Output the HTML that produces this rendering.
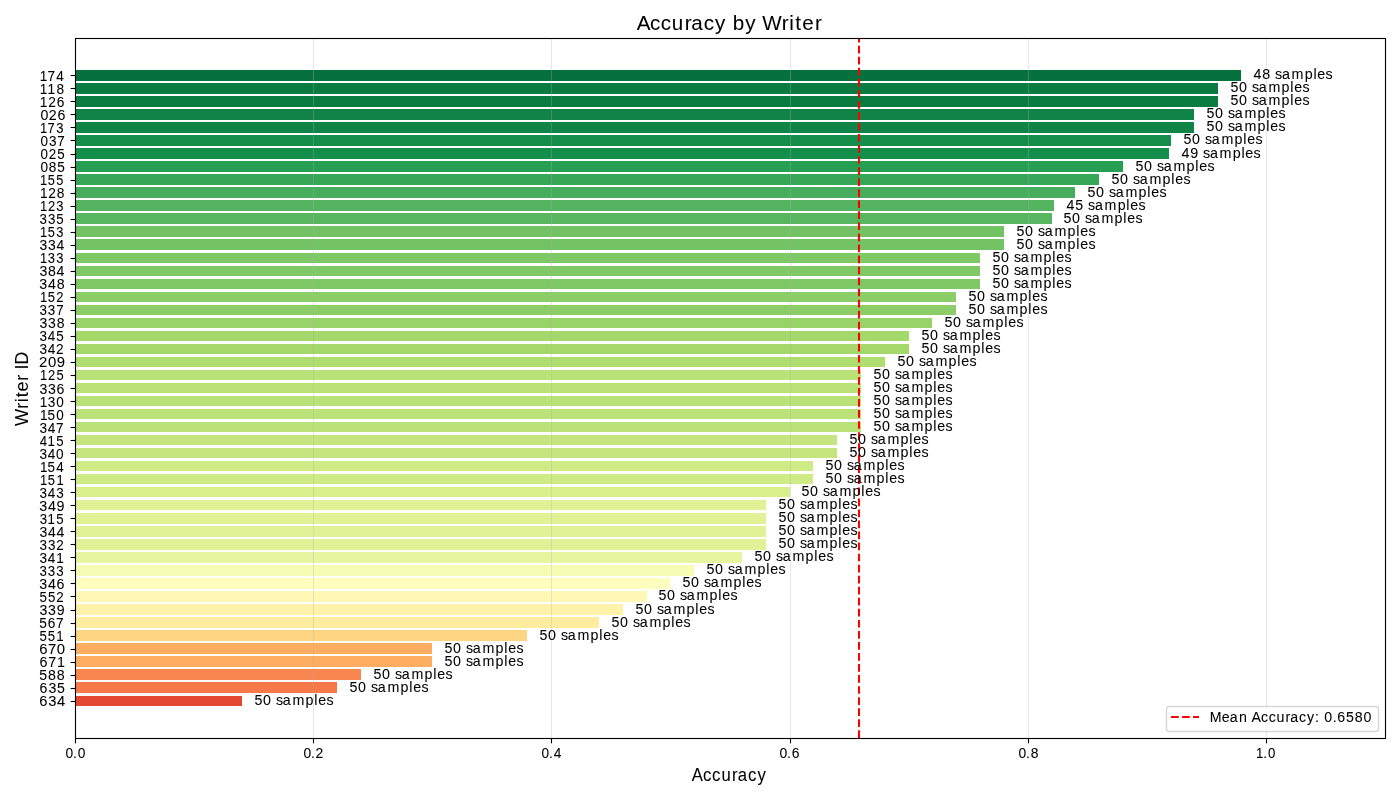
<!DOCTYPE html>
<html><head><meta charset="utf-8"><title>Accuracy by Writer</title>
<style>
html,body{margin:0;padding:0;background:#fff;}
svg{display:block;will-change:transform;}
text{font-family:"Liberation Sans",sans-serif;fill:#000;font-kerning:none;stroke:#000;stroke-width:0.06px;}
</style></head><body>
<svg width="1400" height="800" viewBox="0 0 1400 800">
<defs><clipPath id="ax"><rect x="75.0" y="38.0" width="1310.0" height="700.0"/></clipPath></defs>
<rect x="0" y="0" width="1400" height="800" fill="#ffffff"/>
<g clip-path="url(#ax)">
<rect x="75" y="696" width="167" height="10" fill="#e24731"/>
<rect x="75" y="682" width="262" height="11" fill="#f67a49"/>
<rect x="75" y="669" width="286" height="11" fill="#f8864f"/>
<rect x="75" y="656" width="357" height="11" fill="#fdad60"/>
<rect x="75" y="643" width="357" height="11" fill="#fdad60"/>
<rect x="75" y="630" width="452" height="11" fill="#fed683"/>
<rect x="75" y="617" width="524" height="11" fill="#feec9f"/>
<rect x="75" y="604" width="548" height="11" fill="#fff2aa"/>
<rect x="75" y="591" width="572" height="11" fill="#fff8b4"/>
<rect x="75" y="578" width="595" height="11" fill="#feffbe"/>
<rect x="75" y="565" width="619" height="11" fill="#f7fcb4"/>
<rect x="75" y="552" width="667" height="11" fill="#e8f59f"/>
<rect x="75" y="539" width="691" height="11" fill="#e0f295"/>
<rect x="75" y="526" width="691" height="11" fill="#e0f295"/>
<rect x="75" y="513" width="691" height="11" fill="#e0f295"/>
<rect x="75" y="500" width="691" height="10" fill="#e0f295"/>
<rect x="75" y="487" width="715" height="10" fill="#d9ef8b"/>
<rect x="75" y="474" width="738" height="10" fill="#cfeb85"/>
<rect x="75" y="461" width="738" height="10" fill="#cfeb85"/>
<rect x="75" y="448" width="762" height="10" fill="#c5e67e"/>
<rect x="75" y="435" width="762" height="10" fill="#c5e67e"/>
<rect x="75" y="422" width="786" height="10" fill="#bbe278"/>
<rect x="75" y="409" width="786" height="10" fill="#bbe278"/>
<rect x="75" y="396" width="786" height="10" fill="#bbe278"/>
<rect x="75" y="383" width="786" height="10" fill="#bbe278"/>
<rect x="75" y="370" width="786" height="10" fill="#bbe278"/>
<rect x="75" y="357" width="810" height="10" fill="#afdd70"/>
<rect x="75" y="344" width="834" height="10" fill="#a5d86a"/>
<rect x="75" y="331" width="834" height="10" fill="#a5d86a"/>
<rect x="75" y="318" width="857" height="10" fill="#98d368"/>
<rect x="75" y="305" width="881" height="10" fill="#8ccd67"/>
<rect x="75" y="292" width="881" height="10" fill="#8ccd67"/>
<rect x="75" y="279" width="905" height="10" fill="#7fc866"/>
<rect x="75" y="266" width="905" height="10" fill="#7fc866"/>
<rect x="75" y="253" width="905" height="10" fill="#7fc866"/>
<rect x="75" y="239" width="929" height="11" fill="#73c264"/>
<rect x="75" y="226" width="929" height="11" fill="#73c264"/>
<rect x="75" y="213" width="977" height="11" fill="#57b65f"/>
<rect x="75" y="200" width="979" height="11" fill="#54b45f"/>
<rect x="75" y="187" width="1000" height="11" fill="#45ad5b"/>
<rect x="75" y="174" width="1024" height="11" fill="#36a657"/>
<rect x="75" y="161" width="1048" height="11" fill="#279f53"/>
<rect x="75" y="148" width="1094" height="11" fill="#148e4b"/>
<rect x="75" y="135" width="1096" height="11" fill="#148e4b"/>
<rect x="75" y="122" width="1119" height="11" fill="#0f8446"/>
<rect x="75" y="109" width="1119" height="11" fill="#0f8446"/>
<rect x="75" y="96" width="1143" height="11" fill="#0a7b41"/>
<rect x="75" y="83" width="1143" height="11" fill="#0a7b41"/>
<rect x="75" y="70" width="1166" height="11" fill="#05713c"/>
<line x1="75.5" y1="38.0" x2="75.5" y2="739.0" stroke="#b0b0b0" stroke-opacity="0.3" stroke-width="1.111"/>
<line x1="313.5" y1="38.0" x2="313.5" y2="739.0" stroke="#b0b0b0" stroke-opacity="0.3" stroke-width="1.111"/>
<line x1="551.5" y1="38.0" x2="551.5" y2="739.0" stroke="#b0b0b0" stroke-opacity="0.3" stroke-width="1.111"/>
<line x1="790.5" y1="38.0" x2="790.5" y2="739.0" stroke="#b0b0b0" stroke-opacity="0.3" stroke-width="1.111"/>
<line x1="1028.5" y1="38.0" x2="1028.5" y2="739.0" stroke="#b0b0b0" stroke-opacity="0.3" stroke-width="1.111"/>
<line x1="1266.5" y1="38.0" x2="1266.5" y2="739.0" stroke="#b0b0b0" stroke-opacity="0.3" stroke-width="1.111"/>
<line x1="859.0" y1="738.0" x2="859.0" y2="38.0" stroke="#ff0000" stroke-width="2.0833" stroke-dasharray="7.7083 3.3333"/>
</g>
<rect x="75.5" y="38.5" width="1310.0" height="700.0" fill="none" stroke="#000" stroke-width="1.111"/>
<line x1="70.639" y1="701.5" x2="75.5" y2="701.5" stroke="#000" stroke-width="1.111"/>
<line x1="70.639" y1="688.5" x2="75.5" y2="688.5" stroke="#000" stroke-width="1.111"/>
<line x1="70.639" y1="675.5" x2="75.5" y2="675.5" stroke="#000" stroke-width="1.111"/>
<line x1="70.639" y1="662.5" x2="75.5" y2="662.5" stroke="#000" stroke-width="1.111"/>
<line x1="70.639" y1="649.5" x2="75.5" y2="649.5" stroke="#000" stroke-width="1.111"/>
<line x1="70.639" y1="636.5" x2="75.5" y2="636.5" stroke="#000" stroke-width="1.111"/>
<line x1="70.639" y1="623.5" x2="75.5" y2="623.5" stroke="#000" stroke-width="1.111"/>
<line x1="70.639" y1="610.5" x2="75.5" y2="610.5" stroke="#000" stroke-width="1.111"/>
<line x1="70.639" y1="596.5" x2="75.5" y2="596.5" stroke="#000" stroke-width="1.111"/>
<line x1="70.639" y1="583.5" x2="75.5" y2="583.5" stroke="#000" stroke-width="1.111"/>
<line x1="70.639" y1="570.5" x2="75.5" y2="570.5" stroke="#000" stroke-width="1.111"/>
<line x1="70.639" y1="557.5" x2="75.5" y2="557.5" stroke="#000" stroke-width="1.111"/>
<line x1="70.639" y1="544.5" x2="75.5" y2="544.5" stroke="#000" stroke-width="1.111"/>
<line x1="70.639" y1="531.5" x2="75.5" y2="531.5" stroke="#000" stroke-width="1.111"/>
<line x1="70.639" y1="518.5" x2="75.5" y2="518.5" stroke="#000" stroke-width="1.111"/>
<line x1="70.639" y1="505.5" x2="75.5" y2="505.5" stroke="#000" stroke-width="1.111"/>
<line x1="70.639" y1="492.5" x2="75.5" y2="492.5" stroke="#000" stroke-width="1.111"/>
<line x1="70.639" y1="479.5" x2="75.5" y2="479.5" stroke="#000" stroke-width="1.111"/>
<line x1="70.639" y1="466.5" x2="75.5" y2="466.5" stroke="#000" stroke-width="1.111"/>
<line x1="70.639" y1="453.5" x2="75.5" y2="453.5" stroke="#000" stroke-width="1.111"/>
<line x1="70.639" y1="440.5" x2="75.5" y2="440.5" stroke="#000" stroke-width="1.111"/>
<line x1="70.639" y1="427.5" x2="75.5" y2="427.5" stroke="#000" stroke-width="1.111"/>
<line x1="70.639" y1="414.5" x2="75.5" y2="414.5" stroke="#000" stroke-width="1.111"/>
<line x1="70.639" y1="401.5" x2="75.5" y2="401.5" stroke="#000" stroke-width="1.111"/>
<line x1="70.639" y1="388.5" x2="75.5" y2="388.5" stroke="#000" stroke-width="1.111"/>
<line x1="70.639" y1="375.5" x2="75.5" y2="375.5" stroke="#000" stroke-width="1.111"/>
<line x1="70.639" y1="362.5" x2="75.5" y2="362.5" stroke="#000" stroke-width="1.111"/>
<line x1="70.639" y1="349.5" x2="75.5" y2="349.5" stroke="#000" stroke-width="1.111"/>
<line x1="70.639" y1="336.5" x2="75.5" y2="336.5" stroke="#000" stroke-width="1.111"/>
<line x1="70.639" y1="323.5" x2="75.5" y2="323.5" stroke="#000" stroke-width="1.111"/>
<line x1="70.639" y1="310.5" x2="75.5" y2="310.5" stroke="#000" stroke-width="1.111"/>
<line x1="70.639" y1="297.5" x2="75.5" y2="297.5" stroke="#000" stroke-width="1.111"/>
<line x1="70.639" y1="284.5" x2="75.5" y2="284.5" stroke="#000" stroke-width="1.111"/>
<line x1="70.639" y1="271.5" x2="75.5" y2="271.5" stroke="#000" stroke-width="1.111"/>
<line x1="70.639" y1="258.5" x2="75.5" y2="258.5" stroke="#000" stroke-width="1.111"/>
<line x1="70.639" y1="245.5" x2="75.5" y2="245.5" stroke="#000" stroke-width="1.111"/>
<line x1="70.639" y1="232.5" x2="75.5" y2="232.5" stroke="#000" stroke-width="1.111"/>
<line x1="70.639" y1="219.5" x2="75.5" y2="219.5" stroke="#000" stroke-width="1.111"/>
<line x1="70.639" y1="206.5" x2="75.5" y2="206.5" stroke="#000" stroke-width="1.111"/>
<line x1="70.639" y1="193.5" x2="75.5" y2="193.5" stroke="#000" stroke-width="1.111"/>
<line x1="70.639" y1="180.5" x2="75.5" y2="180.5" stroke="#000" stroke-width="1.111"/>
<line x1="70.639" y1="167.5" x2="75.5" y2="167.5" stroke="#000" stroke-width="1.111"/>
<line x1="70.639" y1="154.5" x2="75.5" y2="154.5" stroke="#000" stroke-width="1.111"/>
<line x1="70.639" y1="140.5" x2="75.5" y2="140.5" stroke="#000" stroke-width="1.111"/>
<line x1="70.639" y1="127.5" x2="75.5" y2="127.5" stroke="#000" stroke-width="1.111"/>
<line x1="70.639" y1="114.5" x2="75.5" y2="114.5" stroke="#000" stroke-width="1.111"/>
<line x1="70.639" y1="101.5" x2="75.5" y2="101.5" stroke="#000" stroke-width="1.111"/>
<line x1="70.639" y1="88.5" x2="75.5" y2="88.5" stroke="#000" stroke-width="1.111"/>
<line x1="70.639" y1="75.5" x2="75.5" y2="75.5" stroke="#000" stroke-width="1.111"/>
<line x1="75.5" y1="738.5" x2="75.5" y2="743.361" stroke="#000" stroke-width="1.111"/>
<line x1="313.5" y1="738.5" x2="313.5" y2="743.361" stroke="#000" stroke-width="1.111"/>
<line x1="551.5" y1="738.5" x2="551.5" y2="743.361" stroke="#000" stroke-width="1.111"/>
<line x1="790.5" y1="738.5" x2="790.5" y2="743.361" stroke="#000" stroke-width="1.111"/>
<line x1="1028.5" y1="738.5" x2="1028.5" y2="743.361" stroke="#000" stroke-width="1.111"/>
<line x1="1266.5" y1="738.5" x2="1266.5" y2="743.361" stroke="#000" stroke-width="1.111"/>
<text transform="translate(40.00 705.86) scale(1.0447 1)" x="-0.67 7.99 16.19" font-size="14.124">634</text>
<text transform="translate(40.00 692.86) scale(1.0014 1)" x="-0.52 8.51 16.94" font-size="14.124">635</text>
<text transform="translate(40.00 679.86) scale(1.0040 1)" x="-0.72 7.96 16.59" font-size="14.124">588</text>
<text transform="translate(40.00 666.86) scale(1.0155 1)" x="-0.57 8.11 16.74" font-size="14.124">671</text>
<text transform="translate(40.00 653.86) scale(1.0574 1)" x="-0.70 7.63 15.90" font-size="14.124">670</text>
<text transform="translate(40.00 640.86) scale(0.9214 1)" x="-0.59 8.54 17.67" font-size="14.332">551</text>
<text transform="translate(40.00 627.86) scale(0.9686 1)" x="-0.71 8.00 16.62" font-size="14.124">567</text>
<text transform="translate(40.00 614.86) scale(1.0003 1)" x="-0.62 8.04 16.64" font-size="14.124">339</text>
<text transform="translate(40.00 601.86) scale(0.9421 1)" x="-0.59 8.38 17.22" font-size="14.124">552</text>
<text transform="translate(40.00 588.86) scale(1.0104 1)" x="-0.66 7.86 16.40" font-size="14.124">346</text>
<text transform="translate(40.00 575.86) scale(0.9407 1)" x="-0.54 8.34 17.22" font-size="14.124">333</text>
<text transform="translate(40.00 562.86) scale(0.9597 1)" x="-0.58 8.16 16.86" font-size="14.124">341</text>
<text transform="translate(40.00 549.86) scale(0.9527 1)" x="-0.54 8.32 16.99" font-size="14.124">332</text>
<text transform="translate(40.00 536.86) scale(0.9957 1)" x="-0.63 7.98 16.62" font-size="14.124">344</text>
<text transform="translate(40.00 523.86) scale(0.9374 1)" x="-0.15 8.08 17.30" font-size="14.124">315</text>
<text transform="translate(40.00 510.86) scale(1.0140 1)" x="-0.66 7.86 16.37" font-size="14.124">349</text>
<text transform="translate(40.00 497.86) scale(0.9542 1)" x="-0.59 8.15 16.92" font-size="14.124">343</text>
<text transform="translate(41.00 484.86) scale(0.9018 1)" x="-1.06 7.49 17.09" font-size="14.332">151</text>
<text transform="translate(41.00 471.86) scale(0.9391 1)" x="-1.19 7.04 16.26" font-size="14.332">154</text>
<text transform="translate(40.00 458.86) scale(0.9594 1)" x="-0.63 7.99 16.62" font-size="14.124">340</text>
<text transform="translate(40.00 445.86) scale(0.9233 1)" x="-0.16 8.21 17.57" font-size="14.332">415</text>
<text transform="translate(40.00 432.86) scale(0.9629 1)" x="-0.61 8.07 16.75" font-size="14.124">347</text>
<text transform="translate(41.00 419.86) scale(0.9579 1)" x="-1.18 6.88 15.87" font-size="14.124">150</text>
<text transform="translate(41.00 406.86) scale(0.9635 1)" x="-1.20 6.92 15.76" font-size="14.124">130</text>
<text transform="translate(40.00 393.86) scale(0.9969 1)" x="-0.62 8.04 16.68" font-size="14.124">336</text>
<text transform="translate(41.00 379.86) scale(0.9154 1)" x="-1.07 7.74 16.81" font-size="14.124">125</text>
<text transform="translate(40.00 366.86) scale(1.0561 1)" x="-0.91 7.52 15.86" font-size="14.124">209</text>
<text transform="translate(40.00 353.86) scale(0.9665 1)" x="-0.59 8.13 16.69" font-size="14.124">342</text>
<text transform="translate(40.00 340.86) scale(0.9529 1)" x="-0.57 8.21 16.96" font-size="14.124">345</text>
<text transform="translate(40.00 327.86) scale(0.9921 1)" x="-0.60 8.13 16.84" font-size="14.124">338</text>
<text transform="translate(40.00 314.86) scale(0.9493 1)" x="-0.56 8.27 17.04" font-size="14.124">337</text>
<text transform="translate(41.00 301.86) scale(0.9222 1)" x="-1.07 7.30 16.47" font-size="14.124">152</text>
<text transform="translate(40.00 288.86) scale(1.0058 1)" x="-0.64 7.95 16.55" font-size="14.124">348</text>
<text transform="translate(40.00 275.86) scale(0.9988 1)" x="-0.64 7.95 16.55" font-size="14.124">384</text>
<text transform="translate(41.00 262.86) scale(0.9159 1)" x="-1.05 7.48 16.74" font-size="14.124">133</text>
<text transform="translate(40.00 249.86) scale(0.9823 1)" x="-0.59 8.17 16.90" font-size="14.124">334</text>
<text transform="translate(41.00 236.86) scale(0.9104 1)" x="-1.03 7.44 16.86" font-size="14.124">153</text>
<text transform="translate(40.00 223.86) scale(0.9392 1)" x="-0.52 8.41 17.27" font-size="14.124">335</text>
<text transform="translate(41.00 210.86) scale(0.9170 1)" x="-1.09 7.67 16.76" font-size="14.124">123</text>
<text transform="translate(41.00 197.86) scale(0.9695 1)" x="-1.15 7.47 16.37" font-size="14.124">128</text>
<text transform="translate(41.00 184.86) scale(0.8957 1)" x="-1.04 7.57 17.12" font-size="14.332">155</text>
<text transform="translate(41.00 171.86) scale(0.9631 1)" x="-0.50 8.16 16.76" font-size="14.124">085</text>
<text transform="translate(41.00 158.86) scale(0.9479 1)" x="-0.45 8.17 17.09" font-size="14.124">025</text>
<text transform="translate(41.00 145.86) scale(0.9569 1)" x="-0.48 8.24 16.90" font-size="14.124">037</text>
<text transform="translate(41.00 132.86) scale(0.9215 1)" x="-1.07 7.17 16.61" font-size="14.124">173</text>
<text transform="translate(41.00 119.86) scale(1.0062 1)" x="-0.55 7.80 16.50" font-size="14.124">026</text>
<text transform="translate(41.00 106.86) scale(0.9745 1)" x="-1.17 7.37 16.20" font-size="14.124">126</text>
<text transform="translate(41.00 93.86) scale(0.9669 1)" x="-1.21 6.80 15.94" font-size="14.124">118</text>
<text transform="translate(41.00 81.00) scale(0.9370 1)" x="-1.24 6.87 16.25" font-size="14.535">174</text>
<text transform="translate(66.00 757.86) scale(0.9749 1)" x="-0.45 7.21 11.94" font-size="14.124">0.0</text>
<text transform="translate(304.00 757.86) scale(0.9821 1)" x="-0.47 7.14 11.66" font-size="14.124">0.2</text>
<text transform="translate(542.00 757.86) scale(0.9681 1)" x="-0.42 7.27 12.02" font-size="14.124">0.4</text>
<text transform="translate(780.00 757.86) scale(0.9878 1)" x="-0.49 7.09 11.79" font-size="14.124">0.6</text>
<text transform="translate(1019.00 757.86) scale(0.9810 1)" x="-0.47 7.15 11.95" font-size="14.124">0.8</text>
<text transform="translate(1257.00 757.86) scale(0.9341 1)" x="-1.11 6.67 11.67" font-size="14.124">1.0</text>
<text transform="translate(255.00 704.88) scale(0.9495 1)" x="-0.54 8.56 17.47 22.11 29.37 39.46 53.31 62.47 66.57 75.29" font-size="15.019">50 samples</text>
<text transform="translate(350.00 691.88) scale(0.9495 1)" x="-0.54 8.56 17.47 22.11 29.37 39.46 53.31 62.47 66.57 75.29" font-size="15.019">50 samples</text>
<text transform="translate(374.00 678.88) scale(0.9495 1)" x="-0.54 8.56 17.47 22.11 29.37 39.46 53.31 62.47 66.57 75.29" font-size="15.019">50 samples</text>
<text transform="translate(445.00 665.88) scale(0.9495 1)" x="-0.54 8.56 17.47 22.11 29.37 39.46 53.31 62.47 66.57 75.29" font-size="15.019">50 samples</text>
<text transform="translate(445.00 652.88) scale(0.9495 1)" x="-0.54 8.56 17.47 22.11 29.37 39.46 53.31 62.47 66.57 75.29" font-size="15.019">50 samples</text>
<text transform="translate(540.00 639.88) scale(0.9495 1)" x="-0.54 8.56 17.47 22.11 29.37 39.46 53.31 62.47 66.57 75.29" font-size="15.019">50 samples</text>
<text transform="translate(612.00 626.88) scale(0.9495 1)" x="-0.54 8.56 17.47 22.11 29.37 39.46 53.31 62.47 66.57 75.29" font-size="15.019">50 samples</text>
<text transform="translate(636.00 613.88) scale(0.9495 1)" x="-0.54 8.56 17.47 22.11 29.37 39.46 53.31 62.47 66.57 75.29" font-size="15.019">50 samples</text>
<text transform="translate(659.00 599.88) scale(0.9495 1)" x="-0.54 8.56 17.47 22.11 29.37 39.46 53.31 62.47 66.57 75.29" font-size="15.019">50 samples</text>
<text transform="translate(683.00 586.88) scale(0.9495 1)" x="-0.54 8.56 17.47 22.11 29.37 39.46 53.31 62.47 66.57 75.29" font-size="15.019">50 samples</text>
<text transform="translate(707.00 573.88) scale(0.9495 1)" x="-0.54 8.56 17.47 22.11 29.37 39.46 53.31 62.47 66.57 75.29" font-size="15.019">50 samples</text>
<text transform="translate(755.00 560.88) scale(0.9495 1)" x="-0.54 8.56 17.47 22.11 29.37 39.46 53.31 62.47 66.57 75.29" font-size="15.019">50 samples</text>
<text transform="translate(779.00 547.88) scale(0.9495 1)" x="-0.54 8.56 17.47 22.11 29.37 39.46 53.31 62.47 66.57 75.29" font-size="15.019">50 samples</text>
<text transform="translate(779.00 534.88) scale(0.9495 1)" x="-0.54 8.56 17.47 22.11 29.37 39.46 53.31 62.47 66.57 75.29" font-size="15.019">50 samples</text>
<text transform="translate(779.00 521.88) scale(0.9495 1)" x="-0.54 8.56 17.47 22.11 29.37 39.46 53.31 62.47 66.57 75.29" font-size="15.019">50 samples</text>
<text transform="translate(779.00 508.88) scale(0.9495 1)" x="-0.54 8.56 17.47 22.11 29.37 39.46 53.31 62.47 66.57 75.29" font-size="15.019">50 samples</text>
<text transform="translate(802.00 495.88) scale(0.9495 1)" x="-0.54 8.56 17.47 22.11 29.37 39.46 53.31 62.47 66.57 75.29" font-size="15.019">50 samples</text>
<text transform="translate(826.00 482.88) scale(0.9495 1)" x="-0.54 8.56 17.47 22.11 29.37 39.46 53.31 62.47 66.57 75.29" font-size="15.019">50 samples</text>
<text transform="translate(826.00 469.88) scale(0.9495 1)" x="-0.54 8.56 17.47 22.11 29.37 39.46 53.31 62.47 66.57 75.29" font-size="15.019">50 samples</text>
<text transform="translate(850.00 456.88) scale(0.9495 1)" x="-0.54 8.56 17.47 22.11 29.37 39.46 53.31 62.47 66.57 75.29" font-size="15.019">50 samples</text>
<text transform="translate(850.00 443.88) scale(0.9495 1)" x="-0.54 8.56 17.47 22.11 29.37 39.46 53.31 62.47 66.57 75.29" font-size="15.019">50 samples</text>
<text transform="translate(874.00 430.88) scale(0.9495 1)" x="-0.54 8.56 17.47 22.11 29.37 39.46 53.31 62.47 66.57 75.29" font-size="15.019">50 samples</text>
<text transform="translate(874.00 417.88) scale(0.9495 1)" x="-0.54 8.56 17.47 22.11 29.37 39.46 53.31 62.47 66.57 75.29" font-size="15.019">50 samples</text>
<text transform="translate(874.00 404.88) scale(0.9495 1)" x="-0.54 8.56 17.47 22.11 29.37 39.46 53.31 62.47 66.57 75.29" font-size="15.019">50 samples</text>
<text transform="translate(874.00 391.88) scale(0.9495 1)" x="-0.54 8.56 17.47 22.11 29.37 39.46 53.31 62.47 66.57 75.29" font-size="15.019">50 samples</text>
<text transform="translate(874.00 378.88) scale(0.9495 1)" x="-0.54 8.56 17.47 22.11 29.37 39.46 53.31 62.47 66.57 75.29" font-size="15.019">50 samples</text>
<text transform="translate(898.00 365.88) scale(0.9495 1)" x="-0.54 8.56 17.47 22.11 29.37 39.46 53.31 62.47 66.57 75.29" font-size="15.019">50 samples</text>
<text transform="translate(922.00 352.88) scale(0.9495 1)" x="-0.54 8.56 17.47 22.11 29.37 39.46 53.31 62.47 66.57 75.29" font-size="15.019">50 samples</text>
<text transform="translate(922.00 339.88) scale(0.9495 1)" x="-0.54 8.56 17.47 22.11 29.37 39.46 53.31 62.47 66.57 75.29" font-size="15.019">50 samples</text>
<text transform="translate(945.00 326.88) scale(0.9495 1)" x="-0.54 8.56 17.47 22.11 29.37 39.46 53.31 62.47 66.57 75.29" font-size="15.019">50 samples</text>
<text transform="translate(969.00 313.88) scale(0.9495 1)" x="-0.54 8.56 17.47 22.11 29.37 39.46 53.31 62.47 66.57 75.29" font-size="15.019">50 samples</text>
<text transform="translate(969.00 300.88) scale(0.9495 1)" x="-0.54 8.56 17.47 22.11 29.37 39.46 53.31 62.47 66.57 75.29" font-size="15.019">50 samples</text>
<text transform="translate(993.00 287.88) scale(0.9495 1)" x="-0.54 8.56 17.47 22.11 29.37 39.46 53.31 62.47 66.57 75.29" font-size="15.019">50 samples</text>
<text transform="translate(993.00 274.88) scale(0.9495 1)" x="-0.54 8.56 17.47 22.11 29.37 39.46 53.31 62.47 66.57 75.29" font-size="15.019">50 samples</text>
<text transform="translate(993.00 261.88) scale(0.9495 1)" x="-0.54 8.56 17.47 22.11 29.37 39.46 53.31 62.47 66.57 75.29" font-size="15.019">50 samples</text>
<text transform="translate(1017.00 248.88) scale(0.9495 1)" x="-0.54 8.56 17.47 22.11 29.37 39.46 53.31 62.47 66.57 75.29" font-size="15.019">50 samples</text>
<text transform="translate(1017.00 235.88) scale(0.9495 1)" x="-0.54 8.56 17.47 22.11 29.37 39.46 53.31 62.47 66.57 75.29" font-size="15.019">50 samples</text>
<text transform="translate(1064.00 222.88) scale(0.9495 1)" x="-0.54 8.56 17.47 22.11 29.37 39.46 53.31 62.47 66.57 75.29" font-size="15.019">50 samples</text>
<text transform="translate(1067.00 209.88) scale(0.9449 1)" x="-0.43 8.61 17.88 22.23 29.53 39.68 53.59 62.78 66.91 75.68" font-size="15.019">45 samples</text>
<text transform="translate(1088.00 196.88) scale(0.9495 1)" x="-0.54 8.56 17.47 22.11 29.37 39.46 53.31 62.47 66.57 75.29" font-size="15.019">50 samples</text>
<text transform="translate(1112.00 183.88) scale(0.9495 1)" x="-0.54 8.56 17.47 22.11 29.37 39.46 53.31 62.47 66.57 75.29" font-size="15.019">50 samples</text>
<text transform="translate(1136.00 170.88) scale(0.9495 1)" x="-0.54 8.56 17.47 22.11 29.37 39.46 53.31 62.47 66.57 75.29" font-size="15.019">50 samples</text>
<text transform="translate(1182.00 157.88) scale(0.9549 1)" x="-0.47 8.55 17.69 22.09 29.27 39.33 53.12 62.24 66.30 74.98" font-size="15.019">49 samples</text>
<text transform="translate(1184.00 143.88) scale(0.9495 1)" x="-0.54 8.56 17.47 22.11 29.37 39.46 53.31 62.47 66.57 75.29" font-size="15.019">50 samples</text>
<text transform="translate(1207.00 130.88) scale(0.9495 1)" x="-0.54 8.56 17.47 22.11 29.37 39.46 53.31 62.47 66.57 75.29" font-size="15.019">50 samples</text>
<text transform="translate(1207.00 117.88) scale(0.9495 1)" x="-0.54 8.56 17.47 22.11 29.37 39.46 53.31 62.47 66.57 75.29" font-size="15.019">50 samples</text>
<text transform="translate(1231.00 104.88) scale(0.9495 1)" x="-0.54 8.56 17.47 22.11 29.37 39.46 53.31 62.47 66.57 75.29" font-size="15.019">50 samples</text>
<text transform="translate(1231.00 91.88) scale(0.9495 1)" x="-0.54 8.56 17.47 22.11 29.37 39.46 53.31 62.47 66.57 75.29" font-size="15.019">50 samples</text>
<text transform="translate(1254.00 78.88) scale(0.9525 1)" x="-0.46 8.65 17.74 22.15 29.36 39.44 53.26 62.40 66.48 75.18" font-size="15.019">48 samples</text>
<text transform="translate(637.00 29.77) scale(1.0114 1)" x="-0.23 12.89 23.51 34.45 47.14 53.73 66.03 77.19 87.78 94.74 106.97 117.41 123.86 143.04 150.62 156.45 163.49 175.92" font-size="20.383">Accuracy by Writer</text>
<text transform="translate(692.00 781.06) scale(0.8806 1)" x="-0.16 12.62 22.79 33.37 45.56 51.85 63.60 74.36" font-size="18.984">Accuracy</text>
<text transform="translate(27.81 425.00) rotate(-90) scale(0.9428 1)" x="-0.97 17.36 24.10 29.35 35.55 46.89 53.33 58.78 63.83" font-size="19.064">Writer ID</text>
<rect x="1166.5" y="706.5" width="212.0" height="25.0" rx="2.78" ry="2.78" fill="#ffffff" fill-opacity="0.8" stroke="#cccccc" stroke-opacity="0.8" stroke-width="1.389"/><line x1="1171.0" y1="717.0" x2="1199.0" y2="717.0" stroke="#ff0000" stroke-width="2.0833" stroke-dasharray="7.7083 3.3333"/>
<text transform="translate(1211.00 722.02) scale(0.9891 1)" x="-1.33 10.97 18.98 28.21 36.58 40.98 50.61 58.27 66.24 75.42 80.16 89.01 97.12 105.19 109.53 114.39 123.03 127.68 136.49 145.40 154.26" font-size="14.353">Mean Accuracy: 0.6580</text>
</svg>
</body></html>
